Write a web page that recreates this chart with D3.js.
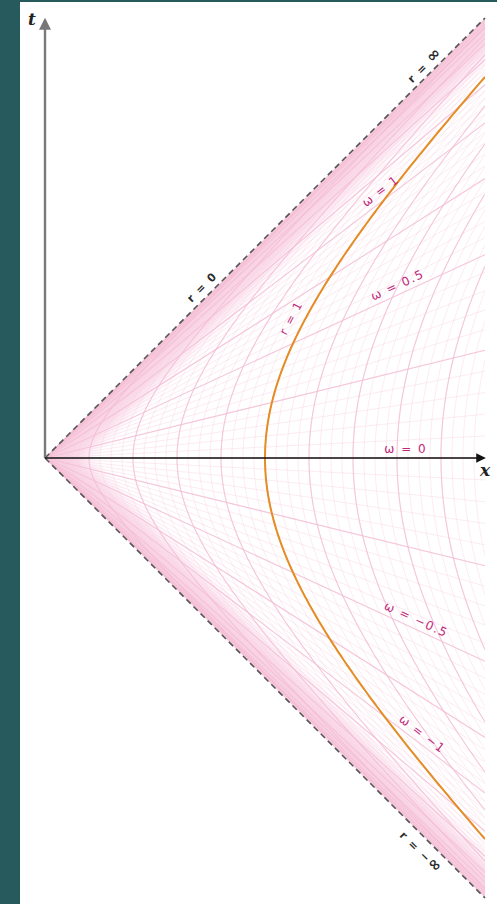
<!DOCTYPE html>
<html>
<head>
<meta charset="utf-8">
<script src="https://cdn.jsdelivr.net/npm/d3@7"></script>
<style>
  html, body { margin: 0; padding: 0; background: #265a5c; }
  svg { display: block; }
</style>
</head>
<body>
<svg id="chart" width="497" height="904"></svg>
<script>
// Rindler wedge: x = r cosh(ω), t = r sinh(ω), shown for 0 ≤ x ≤ 2
const xDomain = [0, 2];
const tDomain = [-2, 2];

// hyperbolas r = const
const minorR = d3.range(1, 41).map(i => i * 0.05);              // 0.05 … 2.00
const majorR = d3.range(1, 11).map(i => +(i * 0.2).toFixed(2)); // 0.2 … 2.0
const highlightR = 1;

// rays ω = const
const minorW = d3.range(-50, 51).map(i => i * 0.05);            // -2.5 … 2.5
const majorW = d3.range(-10, 11).map(i => i * 0.25);            // -2.5 … 2.5

// annotations on rays: ω value and horizontal position of the label
const omegaLabels = [
  { w: 1,    x: 1.55, text: "ω = 1" },
  { w: 0.5,  x: 1.62, text: "ω = 0.5" },
  { w: 0,    x: 1.64, text: "ω = 0" },
  { w: -0.5, x: 1.67, text: "ω = −0.5" },
  { w: -1,   x: 1.69, text: "ω = −1" }
];
// annotations along the horizons
const rLabels = [
  { pre: "r = ",  sym: "0",  x: 0.745, side: 1,  off: 10 },
  { pre: "r = ",  sym: "∞",  x: 1.755, side: 1,  off: 9 },
  { pre: "r = −", sym: "∞",  x: 1.75,  side: -1, off: -13 }
];
const rOneLabel = { text: "r = 1", t: 0.61, off: 13 };

const svg = d3.select("#chart");
const W = 497, H = 904;

// panel
svg.append("rect").attr("x", 20).attr("y", 2).attr("width", W - 20).attr("height", H - 2)
  .attr("fill", "#ffffff");

const xs = d3.scaleLinear().domain(xDomain).range([45, 485]);
const ts = d3.scaleLinear().domain(tDomain).range([898, 18]);

const defs = svg.append("defs");
defs.append("clipPath").attr("id", "wedge").append("path")
  .attr("d", d3.line()([[xs(0), ts(0)], [xs(2), ts(2)], [xs(2), ts(-2)]]) + "Z");

// soft shading just inside each horizon
function bandGradient(id, nx, ny) {
  const gr = defs.append("linearGradient").attr("id", id)
    .attr("gradientUnits", "userSpaceOnUse")
    .attr("x1", xs(0)).attr("y1", ts(0))
    .attr("x2", xs(0) + nx * 36).attr("y2", ts(0) + ny * 36);
  gr.append("stop").attr("offset", 0).attr("stop-color", "#f8c6dc").attr("stop-opacity", 0.95);
  gr.append("stop").attr("offset", 0.55).attr("stop-color", "#f9d1e3").attr("stop-opacity", 0.7);
  gr.append("stop").attr("offset", 1).attr("stop-color", "#fbe0ec").attr("stop-opacity", 0);
}
bandGradient("bandUp", Math.SQRT1_2, Math.SQRT1_2);
bandGradient("bandDn", Math.SQRT1_2, -Math.SQRT1_2);

const g = svg.append("g").attr("clip-path", "url(#wedge)");
const line = d3.line().x(d => xs(d[0])).y(d => ts(d[1]));

function hyperbola(r) {
  const wMax = Math.acosh(xDomain[1] / r);
  return d3.range(0, 201).map(i => {
    const w = -wMax + (2 * wMax * i) / 200;
    return [r * Math.cosh(w), r * Math.sinh(w)];
  });
}
function ray(w) {
  return [[0, 0], [xDomain[1], xDomain[1] * Math.tanh(w)]];
}

g.append("path").attr("fill", "url(#bandUp)")
  .attr("d", line([[0, 0], [2, 2], [2, 1.7], [0, -0.3]]) + "Z");
g.append("path").attr("fill", "url(#bandDn)")
  .attr("d", line([[0, 0], [2, -2], [2, -1.7], [0, 0.3]]) + "Z");

// minor grid
g.append("g").selectAll("path").data(minorR).join("path")
  .attr("d", r => line(hyperbola(r)))
  .attr("fill", "none").attr("stroke", "#f8d3e3").attr("stroke-width", 0.6).attr("opacity", 0.75);
g.append("g").selectAll("path").data(minorW).join("path")
  .attr("d", w => line(ray(w)))
  .attr("fill", "none").attr("stroke", "#f8d3e3").attr("stroke-width", 0.6).attr("opacity", 0.75);

// major grid
g.append("g").selectAll("path").data(majorR).join("path")
  .attr("d", r => line(hyperbola(r)))
  .attr("fill", "none").attr("stroke", "#f4bdd5").attr("stroke-width", 1.1).attr("opacity", 0.8);
g.append("g").selectAll("path").data(majorW).join("path")
  .attr("d", w => line(ray(w)))
  .attr("fill", "none").attr("stroke", "#f4bdd5").attr("stroke-width", 1.1).attr("opacity", 0.8);

// r = 1 hyperbola
g.append("path").attr("d", line(hyperbola(highlightR)))
  .attr("fill", "none").attr("stroke", "#e58c25").attr("stroke-width", 2);

// horizons
const dash = svg.append("g").attr("stroke", "#555").attr("stroke-width", 1.6)
  .attr("stroke-dasharray", "6,4").attr("fill", "none");
dash.append("path").attr("d", line([[0, 0], [2, 2]]));
dash.append("path").attr("d", line([[0, 0], [2, -2]]));

// axes with arrow heads
defs.append("marker").attr("id", "arrowG").attr("viewBox", "0 0 10 10")
  .attr("refX", 8).attr("refY", 5).attr("markerWidth", 5).attr("markerHeight", 5)
  .attr("orient", "auto").append("path").attr("d", "M0,0L10,5L0,10Z").attr("fill", "#777");
defs.append("marker").attr("id", "arrowK").attr("viewBox", "0 0 10 10")
  .attr("refX", 8).attr("refY", 5).attr("markerWidth", 6).attr("markerHeight", 6)
  .attr("orient", "auto").append("path").attr("d", "M0,0L10,5L0,10Z").attr("fill", "#111");

svg.append("line").attr("x1", xs(0)).attr("y1", ts(0)).attr("x2", xs(0)).attr("y2", ts(1.99))
  .attr("stroke", "#7a7a7a").attr("stroke-width", 2.4).attr("marker-end", "url(#arrowG)");
svg.append("line").attr("x1", xs(0)).attr("y1", ts(0)).attr("x2", xs(1.995)).attr("y2", ts(0))
  .attr("stroke", "#111").attr("stroke-width", 1.6).attr("marker-end", "url(#arrowK)");

svg.append("text").attr("x", 28).attr("y", 25).text("t")
  .attr("font-family", "DejaVu Serif").attr("font-style", "italic").attr("font-weight", "bold")
  .attr("font-size", 17).attr("fill", "#222");
svg.append("text").attr("x", 480).attr("y", 476).text("x")
  .attr("font-family", "DejaVu Serif").attr("font-style", "italic").attr("font-weight", "bold")
  .attr("font-size", 17).attr("fill", "#222");

// ω labels, sitting just above their rays
const labelFont = "DejaVu Sans";
omegaLabels.forEach(d => {
  const px = xs(d.x), py = ts(d.x * Math.tanh(d.w));
  const ang = -Math.atan(Math.tanh(d.w)) * 180 / Math.PI;
  svg.append("text")
    .attr("transform", `translate(${px},${py}) rotate(${ang})`)
    .attr("y", -5).attr("text-anchor", "middle")
    .attr("font-family", labelFont).attr("font-size", 12).attr("letter-spacing", 1.5)
    .attr("fill", "#c0287a").text(d.text);
});

// r = 1 label beside the hyperbola
{
  const t = rOneLabel.t, x = Math.sqrt(1 + t * t);
  const px = xs(x), py = ts(t);
  const ang = -Math.atan(x / t) * 180 / Math.PI;
  svg.append("text")
    .attr("transform", `translate(${px},${py}) rotate(${ang})`)
    .attr("y", -rOneLabel.off + 4).attr("text-anchor", "middle")
    .attr("font-family", labelFont).attr("font-size", 11.5).attr("letter-spacing", 1.5)
    .attr("fill", "#c0287a").text(rOneLabel.text);
}

// horizon labels
rLabels.forEach(d => {
  const px = xs(d.x), py = ts(d.side * d.x);
  const ang = -d.side * 45;
  const txt = svg.append("text")
    .attr("transform", `translate(${px},${py}) rotate(${ang})`)
    .attr("y", -d.off + 4).attr("text-anchor", "middle")
    .attr("font-family", labelFont).attr("font-size", 11).attr("letter-spacing", 1.5)
    .attr("font-weight", "bold").attr("fill", "#2a2a2a");
  txt.append("tspan").text(d.pre);
  txt.append("tspan").attr("font-size", d.sym === "∞" ? 16 : 11).text(d.sym);
});
</script>
</body>
</html>
